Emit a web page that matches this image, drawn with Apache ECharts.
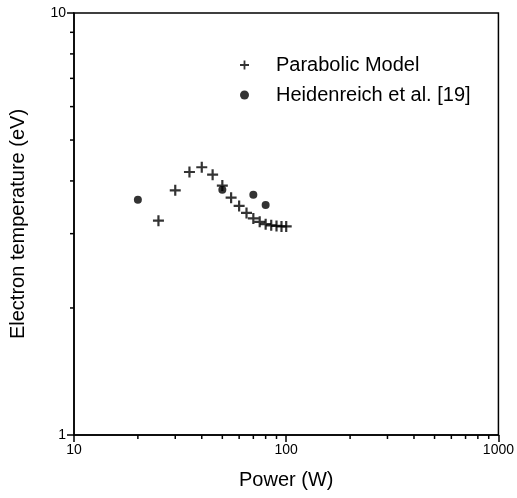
<!DOCTYPE html>
<html>
<head>
<meta charset="utf-8">
<script src="https://cdn.jsdelivr.net/npm/echarts@6/dist/echarts.min.js"></script>
<style>
html,body{margin:0;padding:0;background:#fff;}
#main{width:517px;height:498px;}
</style>
</head>
<body>
<div id="main"></div>
<script>
/*数据*/
var modelPower = [25, 30, 35, 40, 45, 50, 55, 60, 65, 70, 75, 80, 85, 90, 95, 100];
var modelTemp = [3.22, 3.80, 4.20, 4.31, 4.14, 3.90, 3.65, 3.49, 3.36, 3.26, 3.20, 3.16, 3.14, 3.13, 3.12, 3.12];
var measPower = [20, 50, 70, 80];
var measTemp = [3.61, 3.81, 3.71, 3.51];
// 对数轴的次刻度
var xMinorTicks = [20, 30, 40, 50, 60, 70, 80, 90, 200, 300, 400, 500, 600, 700, 800, 900];
var yMinorTicks = [2, 3, 4, 5, 6, 7, 8, 9];

function pairs(xs, ys) {
    var out = [];
    for (var i = 0; i < xs.length; i++) out.push([xs[i], ys[i]]);
    return out;
}

var plusPath = 'path://M4,0 H6 V4 H10 V6 H6 V10 H4 V6 H0 V4 H4 Z';
var font = 'Liberation Sans';

var chart = echarts.init(document.getElementById('main'));
chart.setOption({
    animation: false,
    textStyle: {fontFamily: font},
    grid: {
        left: 73, right: 16, top: 13, bottom: 63,
        show: true, borderColor: '#000', borderWidth: 1.5
    },
    legend: {
        orient: 'vertical',
        left: 235,
        top: 48,
        itemWidth: 9,
        itemHeight: 9,
        itemGap: 6,
        textStyle: {fontFamily: font, fontSize: 20, color: '#000', lineHeight: 24, padding: [0, 0, 0, 22]},
        data: [
            {name: 'Parabolic Model', icon: plusPath},
            {name: 'Heidenreich et al. [19]', icon: 'circle'}
        ]
    },
    xAxis: {
        type: 'log',
        logBase: 10,
        min: 10,
        max: 1000,
        splitNumber: 2,
        name: 'Power (W)',
        nameLocation: 'middle',
        nameGap: 35,
        nameTextStyle: {fontFamily: font, fontSize: 20, color: '#000'},
        axisLine: {lineStyle: {color: '#000', width: 1.5}},
        axisTick: {length: 7, lineStyle: {color: '#000', width: 1.5}},
        axisLabel: {fontFamily: font, fontSize: 14, color: '#000', margin: 8,
            formatter: function (v) { return String(Math.round(v)); }},
        splitLine: {show: false}
    },
    yAxis: {
        type: 'log',
        logBase: 10,
        min: 1,
        max: 10,
        splitNumber: 1,
        name: 'Electron temperature (eV)',
        nameLocation: 'middle',
        nameGap: 46,
        nameTextStyle: {fontFamily: font, fontSize: 20, color: '#000'},
        axisLine: {lineStyle: {color: '#000', width: 1.5}},
        axisTick: {length: 7, lineStyle: {color: '#000', width: 1.5}},
        axisLabel: {fontFamily: font, fontSize: 14, color: '#000', margin: 8,
            formatter: function (v) { return String(Math.round(v)); }},
        splitLine: {show: false}
    },
    series: [
        {
            name: 'Parabolic Model',
            type: 'scatter',
            symbol: plusPath,
            symbolSize: 11,
            itemStyle: {color: '#000'},
            data: pairs(modelPower, modelTemp)
        },
        {
            name: 'Heidenreich et al. [19]',
            type: 'scatter',
            symbol: 'circle',
            symbolSize: 8,
            itemStyle: {color: '#000'},
            data: pairs(measPower, measTemp)
        },
        {
            /*x轴次刻度*/
            type: 'custom',
            silent: true,
            clip: false,
            data: xMinorTicks,
            renderItem: function (params, api) {
                var p = api.coord([api.value(0), 1]);
                return {type: 'line', shape: {x1: p[0], y1: p[1], x2: p[0], y2: p[1] + 4},
                    style: {stroke: '#000', lineWidth: 1.5}};
            }
        },
        {
            /*y轴次刻度*/
            type: 'custom',
            silent: true,
            clip: false,
            data: yMinorTicks.map(function (v) { return [10, v]; }),
            renderItem: function (params, api) {
                var p = api.coord([10, api.value(1)]);
                return {type: 'line', shape: {x1: p[0] - 4, y1: p[1], x2: p[0], y2: p[1]},
                    style: {stroke: '#000', lineWidth: 1.5}};
            }
        }
    ]
});
</script>
</body>
</html>
